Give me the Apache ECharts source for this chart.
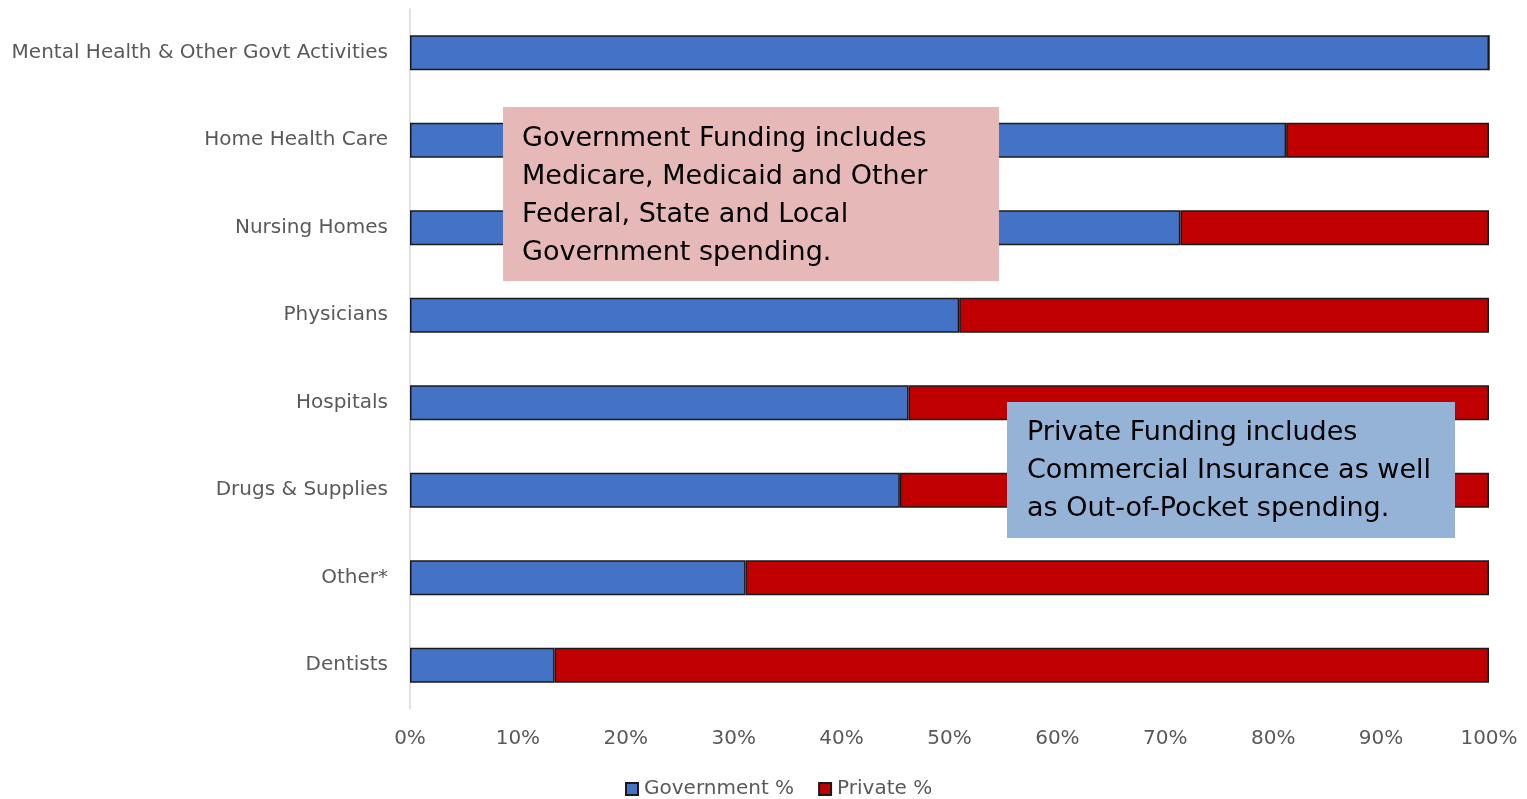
<!DOCTYPE html>
<html>
<head>
<meta charset="utf-8">
<script src="https://cdn.jsdelivr.net/npm/echarts@6/dist/echarts.min.js"></script>
<style>html,body{margin:0;padding:0;background:#fff}#c{width:1527px;height:799px}</style>
</head>
<body>
<div id="c"></div>
<script>
const categories = ['Mental Health & Other Govt Activities','Home Health Care','Nursing Homes','Physicians','Hospitals','Drugs & Supplies','Other*','Dentists'];
const governmentPct = [100, 81.2, 71.4, 50.9, 46.2, 45.4, 31.1, 13.4];
const privatePct = [0, 18.8, 28.6, 49.1, 53.8, 54.6, 68.9, 86.6];
const seriesNames = ['Government %', 'Private %'];
const govNote = ['Government Funding includes','Medicare, Medicaid and Other','Federal, State and Local','Government spending.'];
const privNote = ['Private Funding includes','Commercial Insurance as well','as Out-of-Pocket spending.'];

const FONT = '"DejaVu Sans", Verdana, sans-serif';
const chart = echarts.init(document.getElementById('c'));
const barStyle = c => ({color: c, borderColor: '#1a1a1a', borderWidth: 1.5});
chart.setOption({
  animation: false,
  grid: {left: 410, right: 38, top: 9, bottom: 90, containLabel: false},
  xAxis: {
    type: 'value', min: 0, max: 100, interval: 10,
    axisLine: {show: false}, axisTick: {show: false}, splitLine: {show: false},
    axisLabel: {formatter: '{value}%', color: '#595959', fontSize: 20, fontFamily: FONT, margin: 20}
  },
  yAxis: {
    type: 'category', data: categories, inverse: true,
    axisLine: {show: true, lineStyle: {color: '#D9D9D9', width: 1.5}},
    axisTick: {show: false},
    axisLabel: {color: '#595959', fontSize: 20, fontFamily: FONT, margin: 22}
  },
  legend: {
    top: 779, left: 625, padding: 0, itemWidth: 12, itemHeight: 12, itemGap: 24,
    icon: 'rect',
    textStyle: {color: '#595959', fontSize: 20, fontFamily: FONT, padding: [0,0,0,1]},
    data: seriesNames
  },
  series: [
    {name: seriesNames[0], type: 'bar', stack: 'a', barWidth: '40%', data: governmentPct, itemStyle: barStyle('#4472C4')},
    {name: seriesNames[1], type: 'bar', stack: 'a', barWidth: '40%', data: privatePct, itemStyle: barStyle('#C00000')}
  ],
  graphic: [
    {type: 'group', left: 503, top: 107, z: 100, children: [
      {type: 'rect', z: 100, shape: {x: 0, y: 0, width: 496, height: 174}, style: {fill: '#E6B8B7'}},
      {type: 'text', z: 101, x: 19, y: 13, style: {text: govNote.join('\n'), font: '27px ' + FONT, fill: '#000', lineHeight: 38}}
    ]},
    {type: 'group', left: 1007, top: 402, z: 100, children: [
      {type: 'rect', z: 100, shape: {x: 0, y: 0, width: 448, height: 136}, style: {fill: '#95B3D7'}},
      {type: 'text', z: 101, x: 20, y: 12, style: {text: privNote.join('\n'), font: '27px ' + FONT, fill: '#000', lineHeight: 38}}
    ]}
  ]
});
</script>
</body>
</html>
